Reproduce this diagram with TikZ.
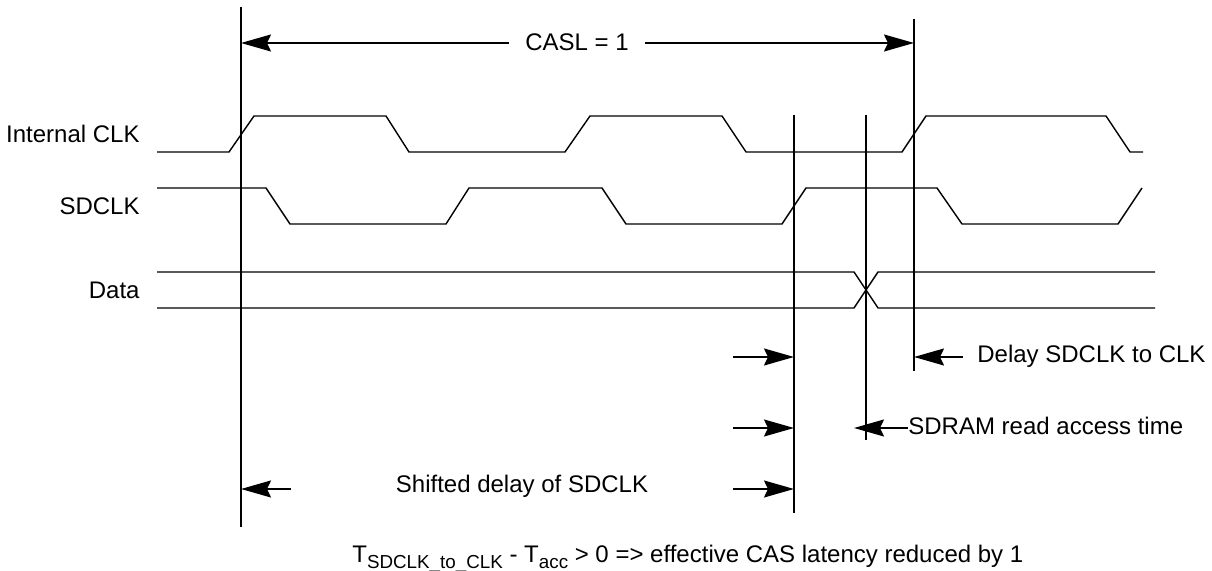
\documentclass[tikz,border=0pt]{standalone}
\usepackage{fontspec}
\setmainfont{Liberation Sans}
\usetikzlibrary{arrows.meta}
\newcommand\lowsub[1]{\raisebox{-2.8pt}{\fontsize{9.4}{11}\selectfont #1}}
\begin{document}
\begin{tikzpicture}[x=0.5pt,y=-0.5pt,
  sig/.style={line width=0.7pt,line join=miter},
  vline/.style={line width=0.8pt},
  dimarrow/.style={line width=0.8pt,-{Stealth[length=15pt,width=8.5pt,inset=2pt]}},
  lbl/.style={font=\fontsize{12}{14}\selectfont,inner sep=0pt}]
\useasboundingbox (0,0) rectangle (1212,571);

% signal labels
\node[lbl,anchor=base east] (lclk) at (140,143) {Internal CLK};
\node[lbl,anchor=base east] (lsd) at (140,215) {SDCLK};
\node[lbl,anchor=base east] (ldata) at (140,299) {Data};

% Internal CLK
\draw[sig] (157,152) -- (229,152) -- (254,116) -- (386,116) -- (409,152) -- (565,152)
  -- (590,116) -- (722,116) -- (746,152) -- (902,152) -- (926,116) -- (1106,116)
  -- (1130,152) -- (1143,152);
% SDCLK
\draw[sig] (157,188) -- (266,188) -- (290,224) -- (446,224) -- (469,188) -- (602,188)
  -- (626,224) -- (782,224) -- (806,188) -- (937,188) -- (962,224) -- (1118,224)
  -- (1142,188);
% Data
\draw[sig] (157,272) -- (854,272) -- (878,308) -- (1155,308);
\draw[sig] (157,308) -- (854,308) -- (878,272) -- (1155,272);

% vertical markers
\coordinate (v1t) at (241,7);   \coordinate (v1b) at (241,527);
\coordinate (v2t) at (794,115); \coordinate (v2b) at (794,513);
\coordinate (v3t) at (866,115); \coordinate (v3b) at (866,440);
\coordinate (v4t) at (914,19);  \coordinate (v4b) at (914,371);
\draw[vline] (v1t) -- (v1b);
\draw[vline] (v2t) -- (v2b);
\draw[vline] (v3t) -- (v3b);
\draw[vline] (v4t) -- (v4b);

% CASL = 1
\node[lbl,inner xsep=8pt] (casl) at (577,42) {CASL = 1};
\coordinate (caslL) at (241,43);
\coordinate (caslR) at (914,43);
\draw[dimarrow] (casl.west |- caslL) -- (caslL);
\draw[dimarrow] (casl.east |- caslR) -- (caslR);

% right-pointing arrows onto v2
\coordinate (a1s) at (733,357); \coordinate (a1e) at (794,357);
\coordinate (a2s) at (733,428); \coordinate (a2e) at (794,428);
\coordinate (a3s) at (733,489); \coordinate (a3e) at (794,489);
\draw[dimarrow] (a1s) -- (a1e);
\draw[dimarrow] (a2s) -- (a2e);
\draw[dimarrow] (a3s) -- (a3e);

% Delay SDCLK to CLK
\node[lbl,anchor=base west] (delay) at (977,363) {Delay SDCLK to CLK};
\coordinate (d1s) at (963,357); \coordinate (d1e) at (914,357);
\draw[dimarrow] (d1s) -- (d1e);

% SDRAM read access time
\node[lbl,anchor=base west] (sdram) at (908,435) {SDRAM read access time};
\coordinate (s1e) at (866,428);
\draw[dimarrow,shorten >=-6pt] (sdram.west |- s1e) -- (s1e);

% Shifted delay of SDCLK
\node[lbl,anchor=base] (shift) at (522,493) {Shifted delay of SDCLK};
\coordinate (sh1s) at (291,489); \coordinate (sh1e) at (241,489);
\draw[dimarrow] (sh1s) -- (sh1e);

% formula
\node[lbl,anchor=base west] (formula) at (352,563)
  {T\lowsub{SDCLK\_to\_CLK} - T\lowsub{acc} > 0 => effective CAS latency reduced by 1};
\end{tikzpicture}
\end{document}
